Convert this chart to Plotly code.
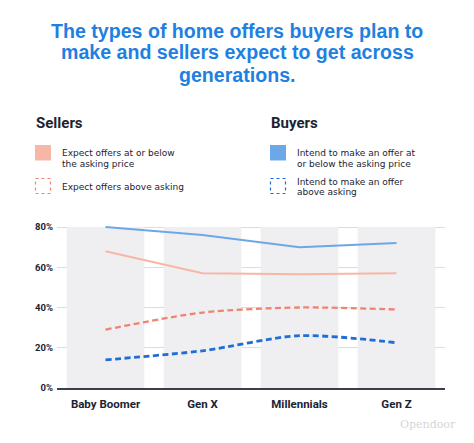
import plotly.graph_objects as go

categories = ["Baby Boomer", "Gen X", "Millennials", "Gen Z"]
sellers_at_or_below = [68, 57, 56.5, 57]
sellers_above = [29, 37.5, 40, 39]
buyers_at_or_below = [80, 76, 70, 72]
buyers_above = [14, 18.5, 26, 22.5]
band_values = [80, 80, 80, 80]
y_ticks = [0, 20, 40, 60, 80]
y_tick_labels = ["0%", "20%", "40%", "60%", "80%"]

title_lines = ["The types of home offers buyers plan to",
               "make and sellers expect to get across",
               "generations."]
sellers_header = "Sellers"
buyers_header = "Buyers"
sellers_labels = [["Expect offers at or below", "the asking price"],
                  ["Expect offers above asking"]]
buyers_labels = [["Intend to make an offer at", "or below the asking price"],
                 ["Intend to make an offer", "above asking"]]

W, H = 474, 443
L, R, T, B = 57, 29, 226, 55
PW, PH = W - L - R, H - T - B


def xp(px):
    return (px - L) / PW


def yp(py):
    return (H - B - py) / PH


SALMON_LIGHT = "#F8B6A7"
SALMON = "#EF8372"
BLUE_LIGHT = "#6CA8E8"
BLUE = "#1F6ED8"
DARK = "#1B2333"
TITLE_BLUE = "#1E80E2"
FONT = "Roboto"
TITLE_FONT = "Liberation Sans"
LEG_FONT = "DejaVu Sans"

fig = go.Figure()
fig.add_trace(go.Bar(x=categories, y=band_values, width=0.8,
                     marker=dict(color="#EFEFF1", line=dict(width=0)),
                     hoverinfo="skip", showlegend=False))
fig.add_trace(go.Scatter(x=categories, y=sellers_at_or_below, mode="lines",
                         line=dict(color=SALMON_LIGHT, width=2),
                         name="Expect offers at or below the asking price"))
fig.add_trace(go.Scatter(x=categories, y=buyers_at_or_below, mode="lines",
                         line=dict(color=BLUE_LIGHT, width=2),
                         name="Intend to make an offer at or below the asking price"))
fig.add_trace(go.Scatter(x=categories, y=sellers_above, mode="lines",
                         line=dict(color=SALMON, width=2.3, dash="6px,3.5px", shape="spline", smoothing=0.8),
                         name="Expect offers above asking"))
fig.add_trace(go.Scatter(x=categories, y=buyers_above, mode="lines",
                         line=dict(color=BLUE, width=2.8, dash="6px,3.5px", shape="spline", smoothing=0.8),
                         name="Intend to make an offer above asking"))

ann = []
shapes = []
for t, cy in zip(title_lines, [30.5, 52.5, 74.5]):
    ann.append(dict(text=t, x=xp(237), y=yp(cy), xanchor="center", yanchor="middle",
                    font=dict(family=TITLE_FONT, size=19.6, color=TITLE_BLUE, weight="bold")))

ann.append(dict(text=sellers_header, x=xp(34), y=yp(122.5), xanchor="left", yanchor="middle",
                font=dict(family=FONT, size=15, color=DARK, weight="bold")))
ann.append(dict(text=buyers_header, x=xp(269), y=yp(122.5), xanchor="left", yanchor="middle",
                font=dict(family=FONT, size=15, color=DARK, weight="bold")))


def legend_text(lines, x0, centers):
    for t, cy in zip(lines, centers):
        ann.append(dict(text=t, x=xp(x0), y=yp(cy), xanchor="left", yanchor="middle",
                        font=dict(family=LEG_FONT, size=9, color=DARK)))


legend_text(sellers_labels[0], 60, [152.5, 163.5])
legend_text(sellers_labels[1], 60, [186.5])
legend_text(buyers_labels[0], 294.5, [152.5, 163.5])
legend_text(buyers_labels[1], 294.5, [181.5, 192])

shapes.append(dict(type="rect", xref="paper", yref="paper", x0=xp(35), x1=xp(51),
                   y0=yp(160.5), y1=yp(145), fillcolor=SALMON_LIGHT, line=dict(width=0)))
shapes.append(dict(type="rect", xref="paper", yref="paper", x0=xp(35.5), x1=xp(50.5),
                   y0=yp(193.5), y1=yp(178.5), fillcolor="rgba(0,0,0,0)",
                   line=dict(color=SALMON, width=1.2, dash="dot")))
shapes.append(dict(type="rect", xref="paper", yref="paper", x0=xp(270), x1=xp(286),
                   y0=yp(160.5), y1=yp(145), fillcolor=BLUE_LIGHT, line=dict(width=0)))
shapes.append(dict(type="rect", xref="paper", yref="paper", x0=xp(270.5), x1=xp(285.5),
                   y0=yp(193.5), y1=yp(178.5), fillcolor="rgba(0,0,0,0)",
                   line=dict(color=BLUE, width=1.2, dash="dot")))

ann.append(dict(text="Opendoor", x=xp(458), y=yp(424), xanchor="right", yanchor="middle",
                font=dict(family="DejaVu Serif", size=11, color="#D6D6D6")))

fig.update_layout(
    width=W, height=H, margin=dict(l=L, r=R, t=T, b=B, autoexpand=False),
    paper_bgcolor="white", plot_bgcolor="white", showlegend=False,
    annotations=[dict(a, xref="paper", yref="paper", showarrow=False) for a in ann],
    shapes=shapes,
    xaxis=dict(range=[-0.5, 3.5], showgrid=False, showline=True, linecolor="#3A3F4A",
               linewidth=2, ticks="", ticklabelstandoff=4,
               tickfont=dict(family=FONT, size=11.5, color=DARK, weight="bold"),
               fixedrange=True),
    yaxis=dict(range=[0, 80.5], tickvals=y_ticks, ticktext=y_tick_labels, showgrid=True,
               gridcolor="#DCDCDE", gridwidth=1, zeroline=False, showline=False, ticks="",
               ticklabelstandoff=3,
               tickfont=dict(family=FONT, size=9.5, color=DARK, weight="bold"), fixedrange=True),
    bargap=0.2,
)

fig.write_html("out.html")
